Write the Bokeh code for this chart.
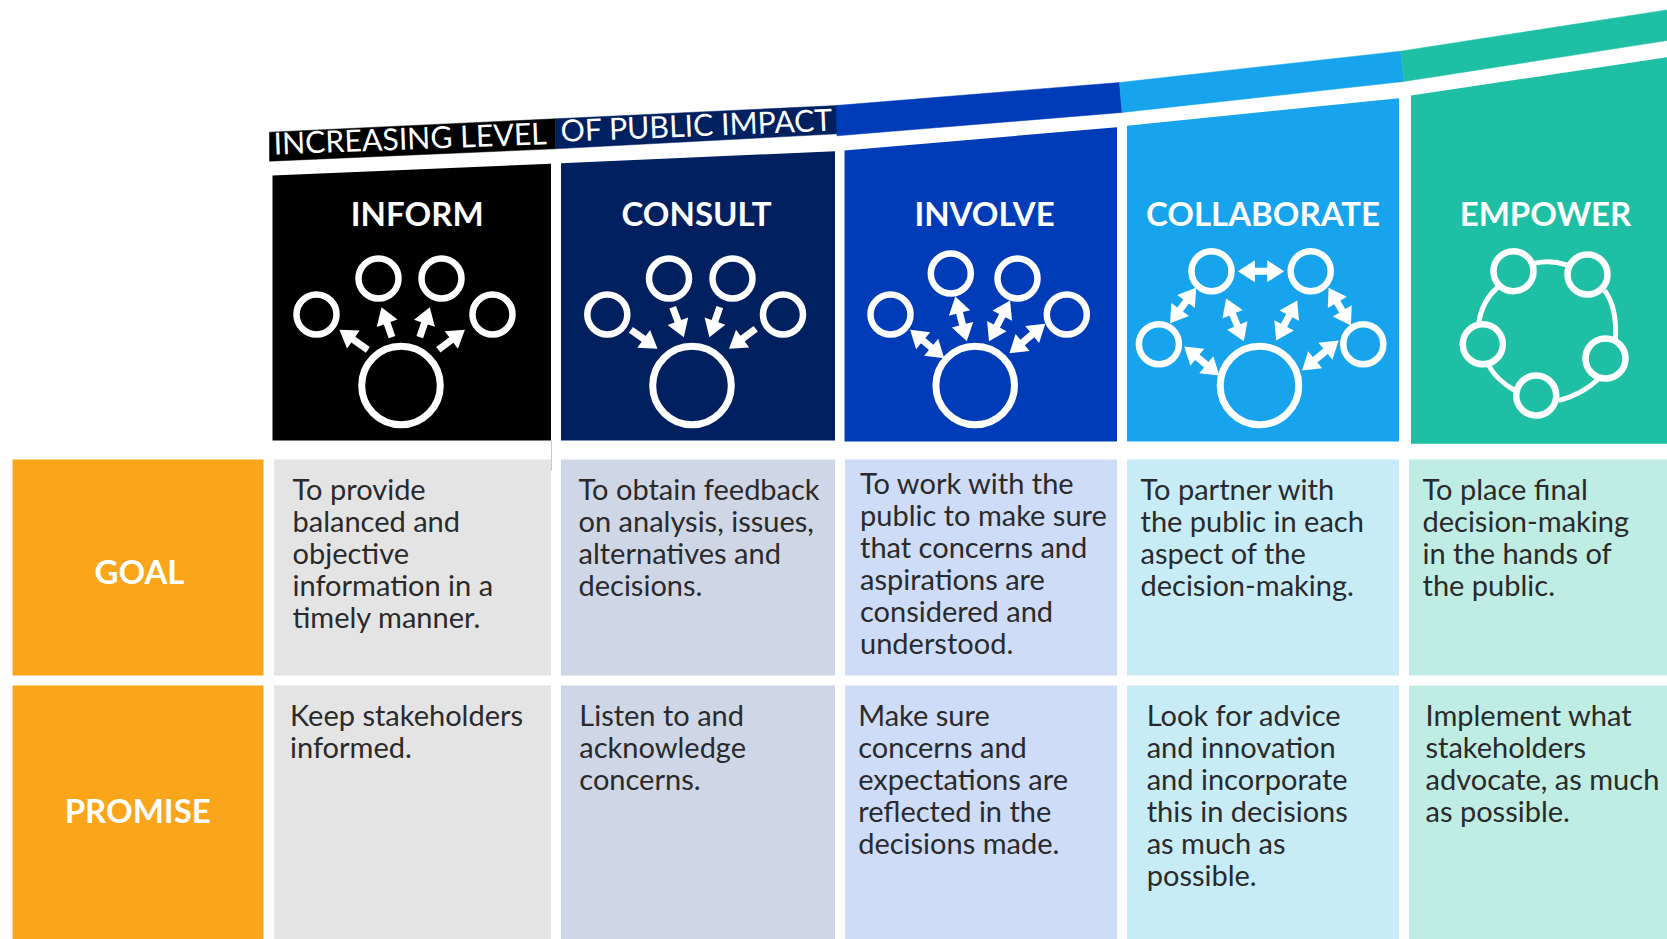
from bokeh.plotting import figure
from bokeh.models import Range1d
from bokeh.core.properties import value
from bokeh.embed import file_html
from bokeh.resources import INLINE
import math

W, H = 1667, 939
BODY_FONT = "Lato"
BODY_PX = 29
HEAD_PX = 33
BANNER_PX = 30.3
LINE_H = 32
BASE_SHIFT = 0.37  # the svg text sits lower than its anchor by about this share of the size

# ---- content -----------------------------------------------------------
stages = ["INFORM", "CONSULT", "INVOLVE", "COLLABORATE", "EMPOWER"]
stage_colors = ["#000000", "#012060", "#003BB8", "#17A4EC", "#1EBFA5"]
cell_colors = ["#E4E4E5", "#CFD6E5", "#CEDCF7", "#C8ECF6", "#BFEDE4"]
row_color = "#FBA51A"
row_names = ["GOAL", "PROMISE"]
banner_words = ["INCREASING LEVEL", "OF PUBLIC IMPACT"]

goal_texts = [
    ["To provide", "balanced and", "objective", "information in a", "timely manner."],
    ["To obtain feedback", "on analysis, issues,", "alternatives and", "decisions."],
    ["To work with the", "public to make sure", "that concerns and", "aspirations are", "considered and", "understood."],
    ["To partner with", "the public in each", "aspect of the", "decision-making."],
    ["To place final", "decision-making", "in the hands of", "the public."],
]
promise_texts = [
    ["Keep stakeholders", "informed."],
    ["Listen to and", "acknowledge", "concerns."],
    ["Make sure", "concerns and", "expectations are", "reflected in the", "decisions made."],
    ["Look for advice", "and innovation", "and incorporate", "this in decisions", "as much as", "possible."],
    ["Implement what", "stakeholders", "advocate, as much", "as possible."],
]

# ---- layout -------------------------------------------------------------
cell_left = [273.5, 560.5, 844.5, 1126.5, 1408.5]
cell_right = [550.5, 834.5, 1116.5, 1398.5, 1667]
head_left = [272, 560.5, 844, 1126.5, 1410.5]
head_right = [550.5, 834.5, 1116.5, 1398.5, 1667]
head_top_l = [175, 162.7, 150, 125.3, 95]
head_top_r = [163.3, 150.7, 126.7, 97.7, 56.7]
head_bottom = [440, 440, 441, 441, 443.3]
head_label_x = [416.7, 696, 984, 1262.5, 1545]

band_polys_x = [
    [269, 555, 555, 269],
    [555, 837, 837, 555],
    [835.5, 1119, 1121.5, 836.5],
    [1119, 1400, 1403.3, 1121.5],
    [1400, 1667, 1667, 1403.3],
]
band_polys_y = [
    [131.7, 118.3, 148.3, 160.7],
    [118.3, 105, 133.3, 148.3],
    [105, 82, 112, 135.3],
    [82, 50.7, 81, 112],
    [50.7, 9.3, 40, 81],
]

goal_x = [292, 578, 859.5, 1140, 1422]
goal_y = [498.5, 498.5, 492.5, 498.5, 498.5]
promise_x = [289.5, 578.8, 857.7, 1146.2, 1425]
promise_y = [724.5, 724.5, 724.5, 724.5, 724.5]

big_x = [400.5, 691.5, 974.7, 1259]
big_y = [385, 385, 385, 385]
small_x = [316, 378, 441, 492, 606.8, 668.5, 732, 782.5,
           890, 950.3, 1017, 1066.3, 1158.4, 1211, 1310.2, 1362.8,
           1513, 1587, 1482.3, 1605, 1535.7]
small_y = [314, 278, 278, 314, 314, 278, 278, 314,
           314, 273, 278, 314, 343.7, 270.7, 270.7, 343.7,
           270.7, 274, 343.7, 358, 395]

single_arrows = [
    (367.4, 349.3, 338.9, 329.3), (391.5, 336.7, 381, 306.7),
    (419.3, 336.7, 429.3, 306.7), (437.8, 349.3, 464.4, 329.3),
    (630.4, 329.3, 657, 348.3), (672.2, 306.7, 683.3, 336.7),
    (719.3, 306.7, 708.9, 336.7), (755.2, 328.3, 728.5, 348.3),
]
double_arrows = [
    (909.6, 329.3, 943.7, 357.7), (954.8, 296, 966.3, 340.7),
    (1009.6, 300, 988.5, 340.7), (1044.8, 323.3, 1008.9, 352.7),
    (1195.6, 287.3, 1169.6, 322.7), (1237.4, 270.7, 1283.7, 270.7),
    (1328.1, 287.3, 1350.4, 325), (1225.6, 298, 1243.3, 340.7),
    (1296.7, 300, 1275.6, 340), (1183.7, 346, 1218.9, 375),
    (1338.1, 340, 1301.5, 370),
]
ring_arcs = [
    (1534.3, 262.7, 1566, 264.3, 1550, 259),
    (1604, 290, 1615, 338.3, 1616.5, 306),
    (1598.3, 378.3, 1558.3, 400, 1581.7, 394),
    (1514.3, 390, 1488.3, 365, 1495.3, 379),
    (1478.3, 321.7, 1497.3, 286.7, 1482.2, 299.2),
]


def arrow_poly(x0, y0, x1, y1, double, shaft=7.0, head_w=22.0, head_l=17.0):
    L = math.hypot(x1 - x0, y1 - y0)
    ux, uy = (x1 - x0) / L, (y1 - y0) / L
    nx, ny = -uy, ux
    s, h = shaft / 2, head_w / 2

    def pt(t, d):
        return (x0 + ux * t + nx * d, y0 + uy * t + ny * d)

    pts = []
    if double:
        pts += [pt(0, 0), pt(head_l, h), pt(head_l, s)]
    else:
        pts += [pt(0, s)]
    pts += [pt(L - head_l, s), pt(L - head_l, h), pt(L, 0), pt(L - head_l, -h), pt(L - head_l, -s)]
    if double:
        pts += [pt(head_l, -s), pt(head_l, -h)]
    else:
        pts += [pt(0, -s)]
    return [a for a, _ in pts], [b for _, b in pts]


p = figure(width=W, height=H, output_backend="svg", toolbar_location=None,
           x_range=Range1d(0, W), y_range=Range1d(H, 0),
           x_axis_location=None, y_axis_location=None, min_border=0,
           outline_line_color=None, background_fill_color="white",
           border_fill_color="white")
p.grid.visible = False

# Banner
p.patches(band_polys_x, band_polys_y, fill_color=stage_colors, line_color=stage_colors, line_width=0.5)

# Header blocks
p.patches([[l, r, r, l] for l, r in zip(head_left, head_right)],
          [[tl, tr, b, b] for tl, tr, b in zip(head_top_l, head_top_r, head_bottom)],
          fill_color=stage_colors, line_color=None)

# Hairline by the inform block
p.segment([551], [440], [551], [470], line_color="#c9c9c9", line_width=1)

# Table rows
p.quad(left=[12, 12], right=[263, 263], top=[459, 685], bottom=[675, 939], fill_color=row_color, line_color=None)
p.quad(left=cell_left * 2, right=cell_right * 2, top=[459] * 5 + [685] * 5, bottom=[675] * 5 + [939] * 5,
       fill_color=cell_colors * 2, line_color=None)

# Icons
ax, ay = [], []
for a in single_arrows:
    xs, ys = arrow_poly(*a, False)
    ax.append(xs); ay.append(ys)
for a in double_arrows:
    xs, ys = arrow_poly(*a, True)
    ax.append(xs); ay.append(ys)
p.patches(ax, ay, fill_color="white", line_color=None)
p.circle(x=big_x, y=big_y, radius=39.3, fill_color=None, line_color="white", line_width=7)
p.circle(x=small_x, y=small_y, radius=20, fill_color=None, line_color="white", line_width=6.5)
p.quadratic(x0=[a[0] for a in ring_arcs], y0=[a[1] for a in ring_arcs],
            x1=[a[2] for a in ring_arcs], y1=[a[3] for a in ring_arcs],
            cx=[a[4] for a in ring_arcs], cy=[a[5] for a in ring_arcs],
            line_color="white", line_width=5)

# Labels
hs = BASE_SHIFT * HEAD_PX
p.text(x=head_label_x, y=[224.5 - hs] * 5, text=stages, text_color="white", text_align="center",
       text_baseline="alphabetic", text_font=value(BODY_FONT), text_font_style="bold", text_font_size=f"{HEAD_PX}px")
p.text(x=[139, 137.2], y=[582.3 - hs, 821.7 - hs], text=row_names, text_color="white", text_align="center",
       text_baseline="alphabetic", text_font=value(BODY_FONT), text_font_style="bold", text_font_size=f"{HEAD_PX}px")

bs = BASE_SHIFT * BANNER_PX
p.text(x=[273], y=[153.3 - bs], text=[banner_words[0]], angle=[math.radians(2.2)], text_color="white",
       text_align="left", text_baseline="alphabetic", text_font=value("Lato"), text_font_size=f"{BANNER_PX}px")
p.text(x=[560], y=[140.5 - bs], text=[banner_words[1]], angle=[math.radians(2.35)], text_color="white",
       text_align="left", text_baseline="alphabetic", text_font=value("Lato"), text_font_size=f"{BANNER_PX}px")

ts = BASE_SHIFT * BODY_PX
tx, ty, tt = [], [], []
for xs, ys, blocks in ((goal_x, goal_y, goal_texts), (promise_x, promise_y, promise_texts)):
    for x0, y0, lines in zip(xs, ys, blocks):
        for i, line in enumerate(lines):
            tx.append(x0); ty.append(y0 + i * LINE_H - ts); tt.append(line)
p.text(x=tx, y=ty, text=tt, text_color="#2A2A2C", text_align="left", text_baseline="alphabetic",
       text_font=value(BODY_FONT), text_font_size=f"{BODY_PX}px")

open("out.html", "w").write(file_html(p, INLINE))
